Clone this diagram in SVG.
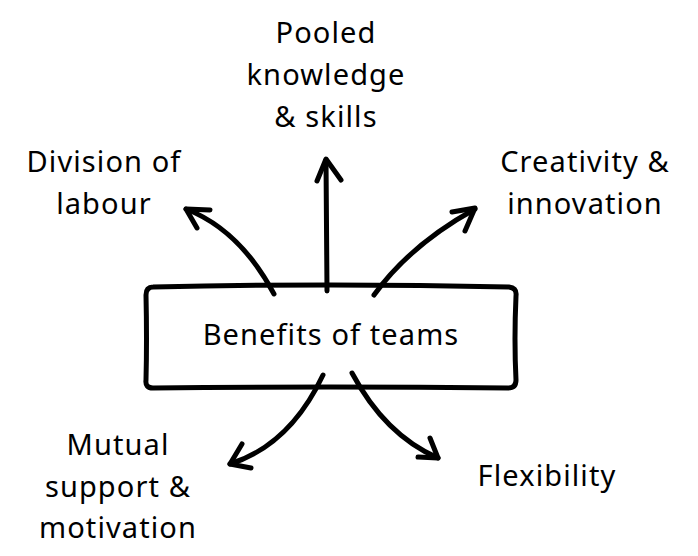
<svg xmlns="http://www.w3.org/2000/svg" width="698" height="556" viewBox="0 0 698 556">
<style>
text{font-family:"Noto Sans","Open Sans",sans-serif;font-size:29px;letter-spacing:1.1px;fill:#000;text-anchor:middle}
.ln{fill:none;stroke:#000;stroke-width:5;stroke-linecap:round;stroke-linejoin:round}
</style>
<rect width="698" height="556" fill="#fff"/>
<g id="center">
<path class="ln" d="M153,287 Q330,283 509,287 Q517,288 516,296 Q514,340 516,380 Q516,388 508,388 Q330,386 153,388 Q145,388 146,380 Q147,340 146,295 Q146,287 153,287 Z"/>
<text x="331" y="345">Benefits of teams</text>
</g>
<g id="pooled"><text x="326" y="43">Pooled</text><text x="326" y="85">knowledge</text><text x="326" y="127">&amp; skills</text></g>
<g id="division"><text x="104" y="172">Division of</text><text x="104" y="214">labour</text></g>
<g id="creativity"><text x="585" y="172">Creativity &amp;</text><text x="585" y="214">innovation</text></g>
<g id="mutual"><text x="118" y="455">Mutual</text><text x="118" y="497">support &amp;</text><text x="118" y="538">motivation</text></g>
<g id="flexibility"><text x="547" y="486">Flexibility</text></g>
<g id="connectors">
<path class="ln" d="M274,294 Q240,230 186,209"/><path class="ln" d="M210,210 L186,209 L197,228"/>
<path class="ln" d="M327,291 L326,160"/><path class="ln" d="M317,181 L326,159 L341,180"/>
<path class="ln" d="M374,295 Q410,245 475,209"/><path class="ln" d="M452,212 L475,208 L465,231"/>
<path class="ln" d="M323,375 Q290,445 230,464"/><path class="ln" d="M242,444 L230,464 L251,468"/>
<path class="ln" d="M352,373 Q385,435 438,458"/><path class="ln" d="M430,438 L438,458 L418,457"/>
</g>
</svg>
